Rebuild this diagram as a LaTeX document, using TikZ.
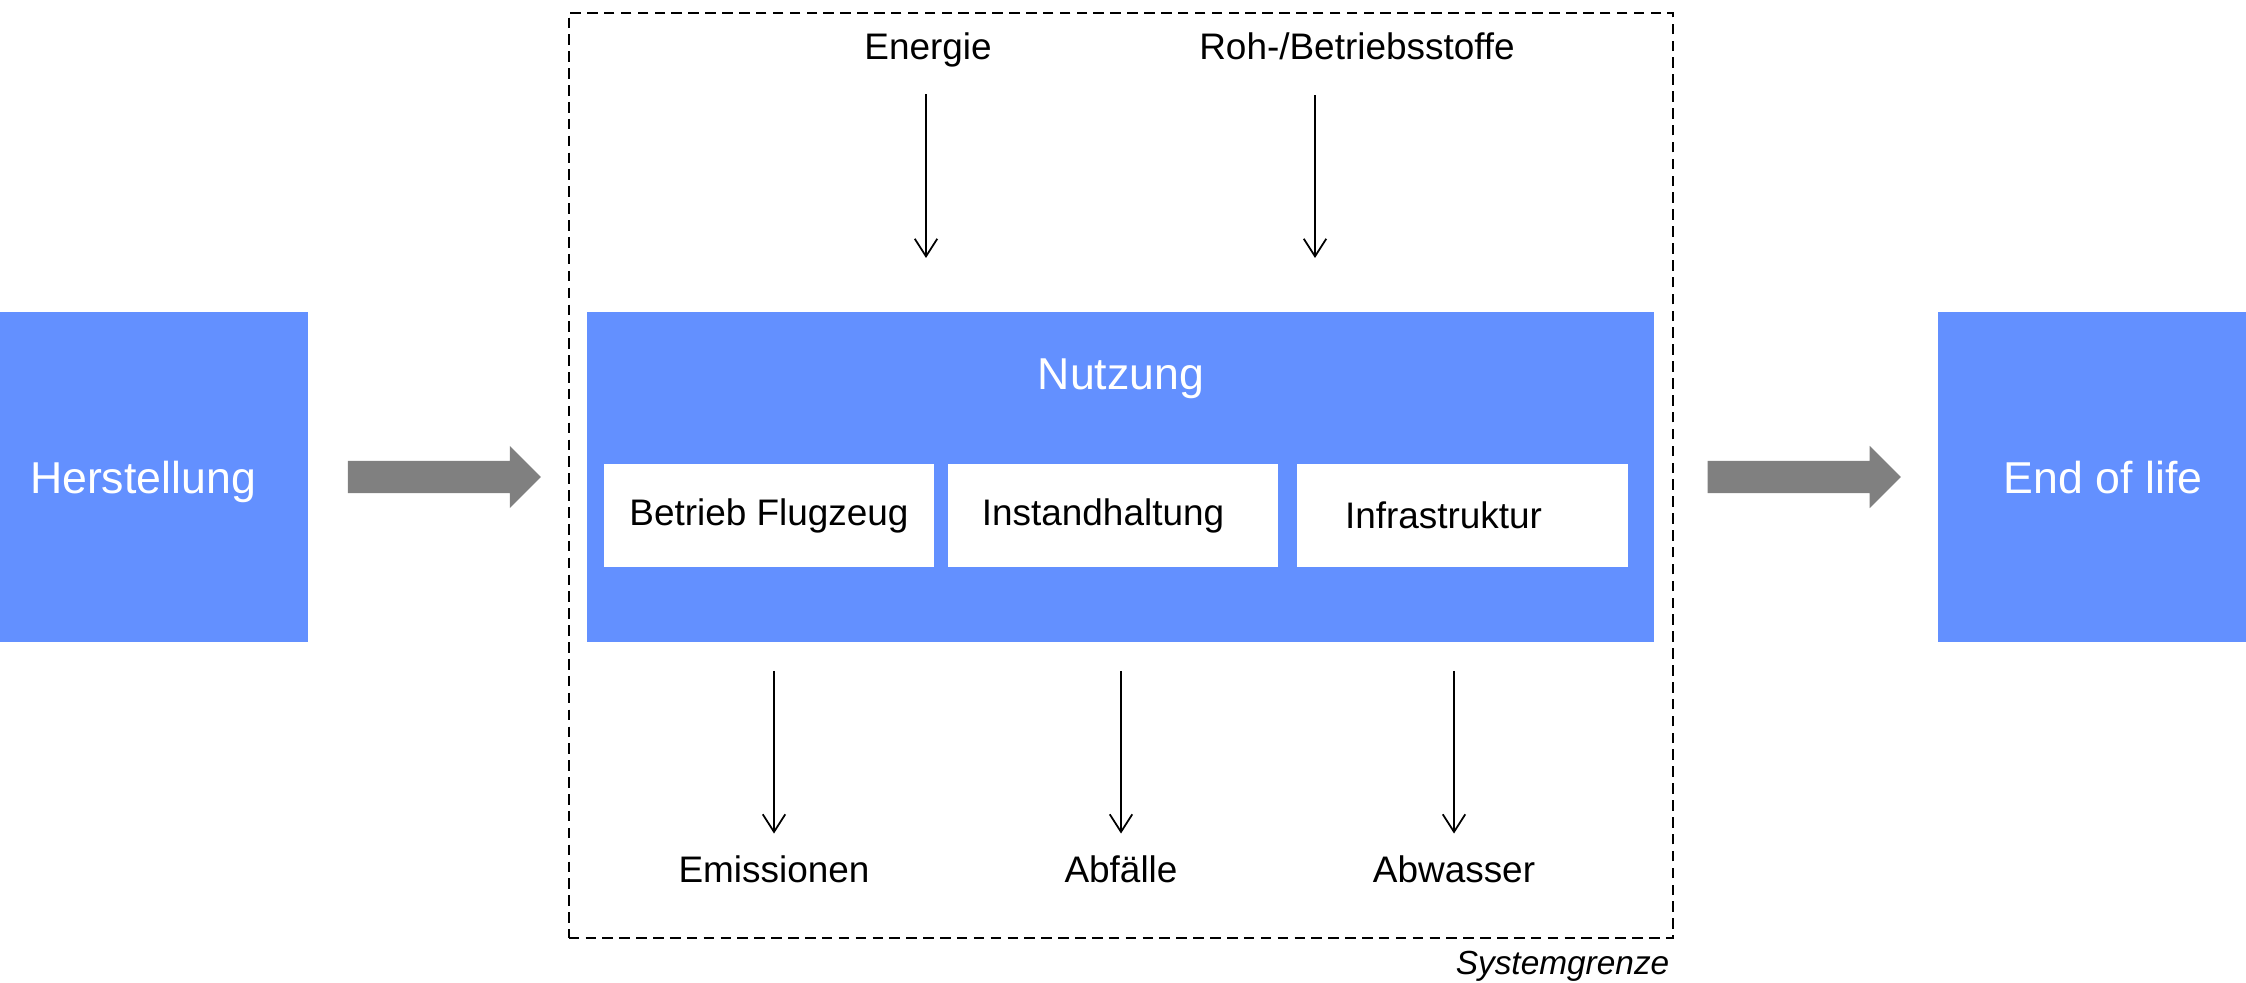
\documentclass[tikz,border=0pt]{standalone}
\usepackage{fontspec}
\setmainfont{Liberation Sans}
\usepackage{tikz}
\usetikzlibrary{arrows,arrows.meta,shapes.arrows}
\definecolor{nutzblau}{RGB}{99,144,255}
\definecolor{pfeilgrau}{RGB}{128,128,128}

\begin{document}
\begin{tikzpicture}[x=0.01cm, y=-0.01cm,
  phase/.style={fill=nutzblau, minimum width=3.08cm, minimum height=3.3cm, inner sep=0pt, text depth=0pt, text=white, font=\fontsize{12.7}{15}\selectfont},
  teil/.style={fill=white, minimum width=3.3cm, minimum height=1.03cm, inner sep=0pt, font=\fontsize{10.5}{12}\selectfont},
  fluss/.style={inner sep=0pt, font=\fontsize{10.5}{12}\selectfont},
  fett/.style={single arrow, fill=pfeilgrau, minimum height=1.93cm, minimum width=0.61cm, single arrow head extend=0.15cm, single arrow head indent=0pt, inner xsep=0pt, inner ysep=0.155cm},
  >={Straight Barb[length=5pt,width=6.4pt]}]
  \useasboundingbox (0,0) rectangle (2246,983);

  \node[draw, line width=0.6pt, dash pattern=on 3pt off 1.8pt, minimum width=11.04cm, minimum height=9.25cm, inner sep=0pt] (grenze) at (1121,475.5) {};
  \node[anchor=base east, inner sep=0pt, font=\fontsize{9.5}{11}\itshape] (sgtext) at (1670,974) {Systemgrenze};

  \node[phase] (herst) at (154,477) {\hspace*{-0.22cm}Herstellung};
  \node[phase, minimum width=10.67cm] (nutz) at (1120.5,477) {};
  \node[phase] (eol) at (2092,477) {\hspace*{0.22cm}End of life};
  \node[anchor=base, inner sep=0pt, text=white, font=\fontsize{12.7}{15}\selectfont] (nutzlbl) at (1121,390) {Nutzung};

  \node[teil] (betrieb) at (769,515.5) {Betrieb Flugzeug};
  \node[teil] (instand) at (1113,515.5) {\hspace*{-0.2cm}Instandhaltung};
  \node[teil] (infra) at (1462.5,515.5) {\hspace*{-0.38cm}Infrastruktur};

  \path (herst) -- node[fett, pos=0.46] (pfeil1) {} (nutz);
  \path (nutz) -- node[fett] (pfeil2) {} (eol);

  \node[fluss, anchor=base] (energie) at (928,60) {Energie};
  \node[fluss, anchor=base] (roh) at (1357,60) {Roh-/Betriebsstoffe};
  \coordinate (ein1) at (926,258);
  \coordinate (ein2) at (1315,258);

  \node[fluss, anchor=base] (emis) at (774,882) {Emissionen};
  \node[fluss, anchor=base] (abf) at (1121,882) {Abfälle};
  \node[fluss, anchor=base] (abw) at (1454,882) {Abwasser};

  \path[->, line width=0.5pt]
  (energie.south -| ein1) edge [shorten <=0.26cm] (ein1)
  (roh.south -| ein2) edge [shorten <=0.34cm] (ein2)
  ;
  \path[->, line width=0.5pt]
  (emis |- nutz.south) edge [shorten <=0.28cm, shorten >=0.21cm] (emis)
  (abf |- nutz.south) edge [shorten <=0.28cm, shorten >=0.21cm] (abf)
  (abw |- nutz.south) edge [shorten <=0.28cm, shorten >=0.21cm] (abw)
  ;
\end{tikzpicture}
\end{document}
